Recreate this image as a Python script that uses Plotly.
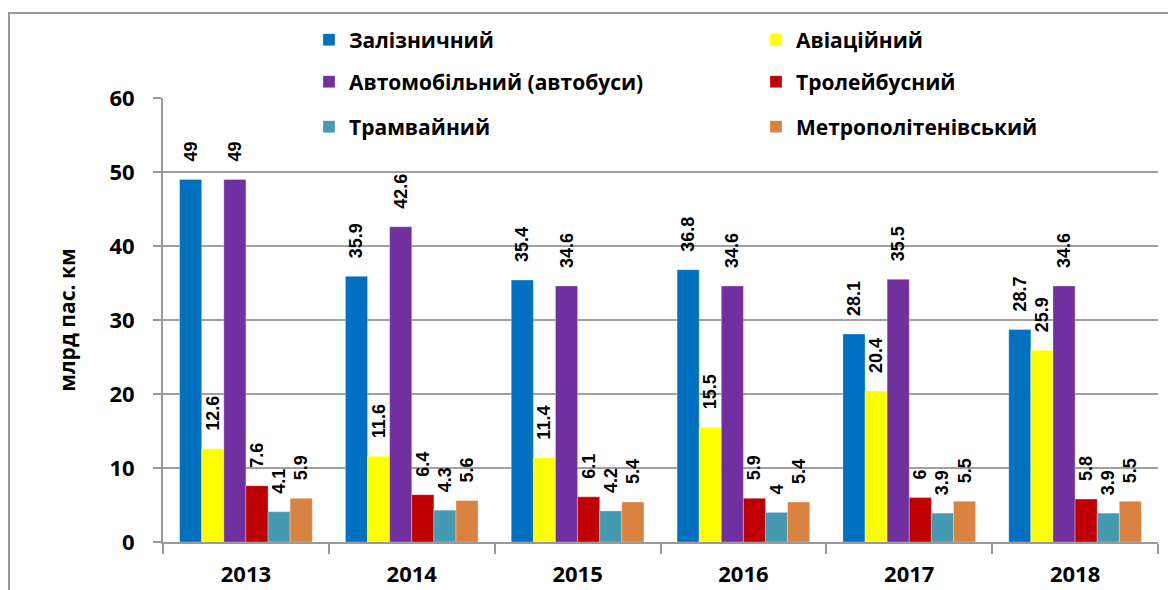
import plotly.graph_objects as go

# years and passenger turnover by transport type, bn passenger-km
years = ["2013", "2014", "2015", "2016", "2017", "2018"]

rail = [49, 35.9, 35.4, 36.8, 28.1, 28.7]
aviation = [12.6, 11.6, 11.4, 15.5, 20.4, 25.9]
bus = [49, 42.6, 34.6, 34.6, 35.5, 34.6]
trolleybus = [7.6, 6.4, 6.1, 5.9, 6, 5.8]
tram = [4.1, 4.3, 4.2, 4, 3.9, 3.9]
metro = [5.9, 5.6, 5.4, 5.4, 5.5, 5.5]

series = [
    ("Залізничний", rail, "#0070C0", "legend"),
    ("Авіаційний", aviation, "#FFFF00", "legend"),
    ("Автомобільний (автобуси)", bus, "#7030A0", "legend2"),
    ("Тролейбусний", trolleybus, "#C00000", "legend2"),
    ("Трамвайний", tram, "#4599B0", "legend3"),
    ("Метрополітенівський", metro, "#DA823F", "legend3"),
]

# page body has an 8px margin, so the figure is drawn 8px in from the window edge
OFF = 8
W, H = 1176 - OFF, 590 - OFF
L, T = 163 - OFF, 98 - OFF
R, B = W - (1158 - OFF), H - (542 - OFF)
pw, ph = W - L - R, H - T - B


def px_x(x):
    # window pixel -> paper x
    return (x - OFF - L) / pw


def px_y(y):
    # window pixel -> paper y
    return 1 + (T - (y - OFF)) / ph


val_font = dict(family="Liberation Sans", size=18, color="black", weight="bold")

fig = go.Figure()
for name, vals, color, leg in series:
    fig.add_trace(go.Bar(
        x=years, y=vals, name=name, legend=leg,
        marker=dict(color=color, line=dict(color="rgba(255,255,255,0.6)", width=0.5)),
        # leading no-break spaces lift the rotated labels off the bar tops
        texttemplate="\u00a0\u00a0\u00a0%{y}", textposition="outside", textangle=-90,
        constraintext="none", cliponaxis=False,
        textfont=val_font, outsidetextfont=val_font,
    ))

label_font = dict(family="Open Sans", size=21, color="black", weight="bold")
leg_common = dict(orientation="h", entrywidth=402, entrywidthmode="pixels",
                  font=label_font, bgcolor="rgba(0,0,0,0)", xanchor="left",
                  yanchor="middle", x=px_x(309), itemclick=False)

fig.update_layout(
    width=W, height=H,
    margin=dict(l=L, r=R, t=T, b=B, autoexpand=False),
    paper_bgcolor="white", plot_bgcolor="white",
    barmode="group", bargap=0.2, bargroupgap=0,
    font=dict(family="Open Sans", color="black"),
    legend=dict(leg_common, y=px_y(40)),
    legend2=dict(leg_common, y=px_y(82)),
    legend3=dict(leg_common, y=px_y(127)),
    xaxis=dict(
        tickson="boundaries", ticks="outside", ticklen=10, tickcolor="#999999",
        tickwidth=2, showline=True, linecolor="#999999", linewidth=2,
        tickfont=dict(family="Open Sans", size=22, color="black", weight="bold"),
        ticklabelstandoff=12, automargin=False,
    ),
    yaxis=dict(
        range=[0, 60], dtick=10, ticks="outside", ticklen=8, tickcolor="#999999",
        tickwidth=2, showline=True, linecolor="#999999", linewidth=2,
        showgrid=True, gridcolor="#a0a0a0", gridwidth=2, zeroline=False,
        tickfont=dict(family="Open Sans", size=22, color="black", weight="bold"),
        ticklabelstandoff=14, automargin=False,
        title=dict(text="млрд пас. км", standoff=28,
                   font=dict(family="Open Sans", size=21, color="black", weight="bold")),
    ),
    shapes=[dict(type="rect", xref="paper", yref="paper",
                 x0=px_x(9), x1=px_x(1200), y0=px_y(620), y1=px_y(13),
                 line=dict(color="#999999", width=2), layer="below")],
)

fig.write_html("out.html")
